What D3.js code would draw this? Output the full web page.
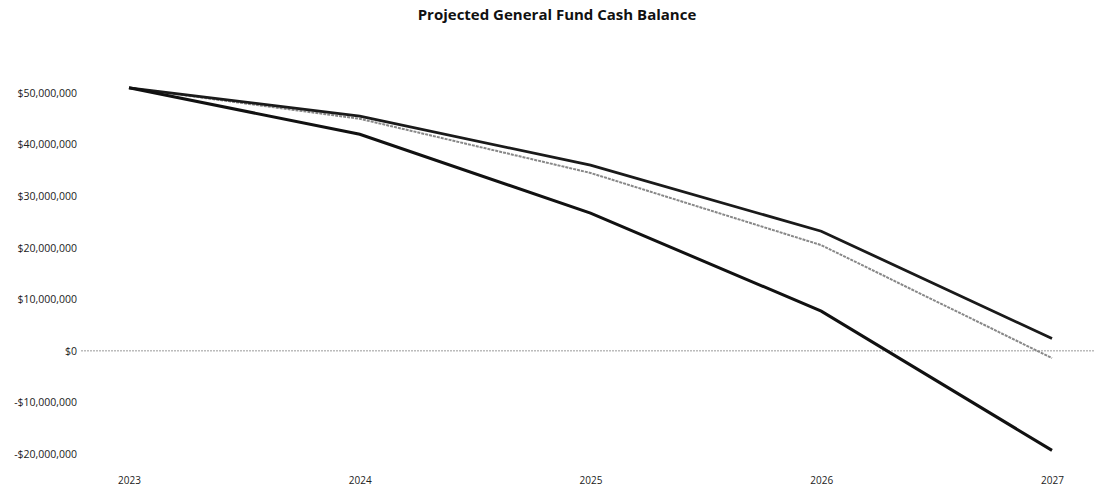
<!DOCTYPE html>
<html><head><meta charset="utf-8">
<script src="https://cdn.jsdelivr.net/npm/d3@7"></script>
<style>body{margin:0;background:#fff;}svg{display:block;}</style>
</head><body>
<svg id="chart" width="1094" height="493"></svg>
<script>
const years = ["2023","2024","2025","2026","2027"];
const seriesA = [51000000, 45500000, 36000000, 23200000, 2400000];
const seriesB = [51000000, 45000000, 34500000, 20500000, -1400000];
const seriesC = [51000000, 42000000, 26700000, 7700000, -19300000];
const yTicks = [50000000, 40000000, 30000000, 20000000, 10000000, 0, -10000000, -20000000];
const title = "Projected General Fund Cash Balance";

const svg = d3.select("#chart");
const x = d3.scalePoint().domain(years).range([129, 1052]);
const y = d3.scaleLinear().domain([-20000000, 50000000]).range([454, 93]);

svg.append("text").attr("x", 557).attr("y", 20).attr("text-anchor", "middle")
  .attr("font-family", "Open Sans").attr("font-weight", "bold").attr("font-size", 15)
  .attr("fill", "#111").text(title);

const fmt = v => (v < 0 ? "-$" : "$") + d3.format(",")(Math.abs(v));
const yAxis = svg.append("g").attr("transform", "translate(77,0)")
  .call(d3.axisLeft(y).tickValues(yTicks).tickFormat(fmt).tickSize(0).tickPadding(0));
yAxis.select(".domain").remove();
yAxis.selectAll("text").attr("font-family", "Open Sans").attr("font-size", 10.5).attr("fill", "#222");

const xAxis = svg.append("g").attr("transform", "translate(0,477)")
  .call(d3.axisBottom(x).tickSize(0).tickPadding(0));
xAxis.select(".domain").remove();
xAxis.selectAll("text").attr("font-family", "Open Sans").attr("font-size", 10).attr("fill", "#222");

svg.append("line").attr("x1", 81).attr("x2", 1094).attr("y1", y(0)).attr("y2", y(0))
  .attr("stroke", "#999").attr("stroke-width", 1).attr("stroke-dasharray", "2,1");

const line = d3.line().x((d, i) => x(years[i])).y(d => y(d));
svg.append("path").datum(seriesB).attr("d", line).attr("fill", "none")
  .attr("stroke", "#888").attr("stroke-width", 2).attr("stroke-dasharray", "3,1");
svg.append("path").datum(seriesA).attr("d", line).attr("fill", "none")
  .attr("stroke", "#1a1a1a").attr("stroke-width", 2.8);
svg.append("path").datum(seriesC).attr("d", line).attr("fill", "none")
  .attr("stroke", "#111").attr("stroke-width", 3);
</script>
</body></html>
